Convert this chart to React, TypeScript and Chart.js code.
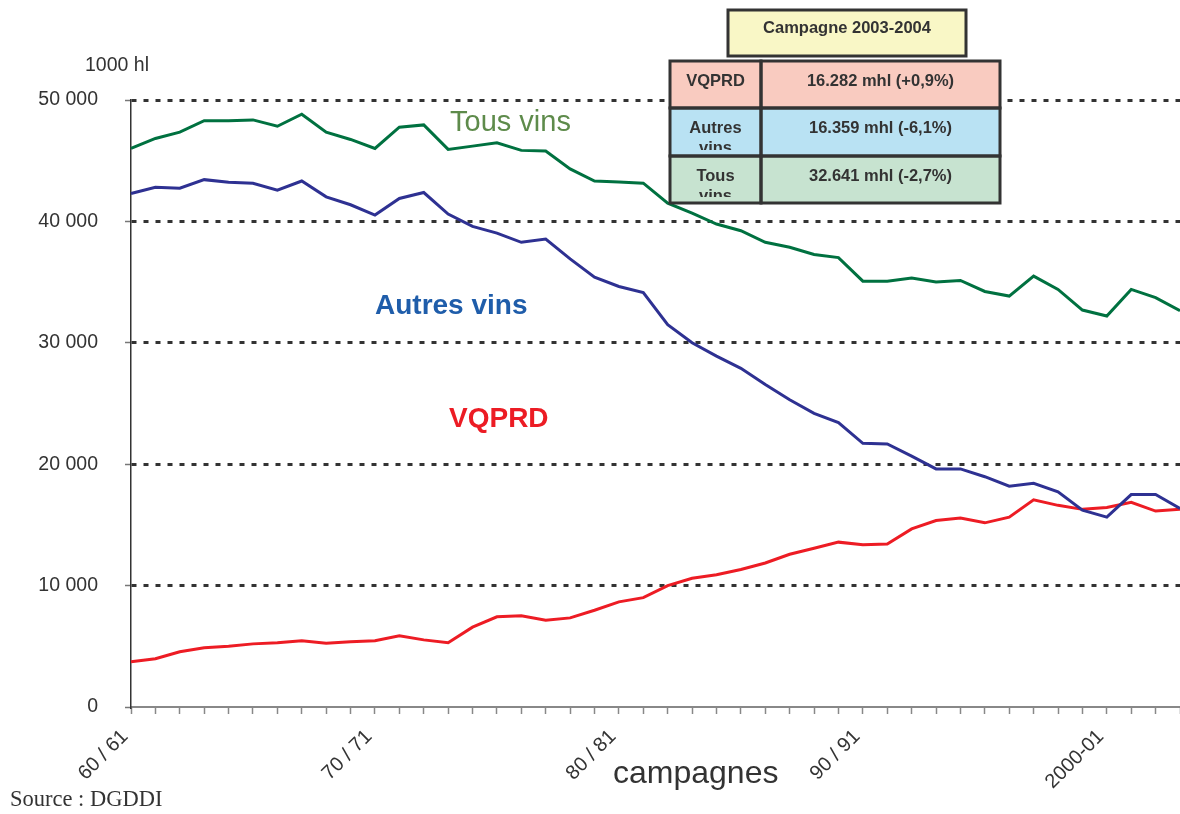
import React, { useEffect, useRef } from 'react';
import { Chart, registerables } from 'chart.js';

Chart.register(...registerables);

// ---- Data (1000 hl) ----
const campagnes = [
  '60 / 61', '61 / 62', '62 / 63', '63 / 64', '64 / 65', '65 / 66', '66 / 67', '67 / 68', '68 / 69', '69 / 70',
  '70 / 71', '71 / 72', '72 / 73', '73 / 74', '74 / 75', '75 / 76', '76 / 77', '77 / 78', '78 / 79', '79 / 80',
  '80 / 81', '81 / 82', '82 / 83', '83 / 84', '84 / 85', '85 / 86', '86 / 87', '87 / 88', '88 / 89', '89 / 90',
  '90 / 91', '91 / 92', '92 / 93', '93 / 94', '94 / 95', '95 / 96', '96 / 97', '97 / 98', '98 / 99', '99 / 00',
  '2000-01', '2001-02', '2002-03', '2003-04',
];

const shownTickLabels = ['60 / 61', '70 / 71', '80 / 81', '90 / 91', '2000-01'];

const tousVins = [
  46010, 46830, 47350, 48300, 48300, 48360, 47840, 48830, 47350, 46750,
  46010, 47760, 47950, 45930, 46200, 46480, 45850, 45790, 44320, 43330,
  43250, 43150, 41500, 40680, 39780, 39230, 38280, 37870, 37270, 37020,
  35080, 35080, 35330, 35000, 35140, 34230, 33850, 35490, 34400, 32700,
  32210, 34400, 33720, 32641,
];

const autresVins = [
  42300, 42810, 42730, 43440, 43220, 43140, 42570, 43330, 42020, 41370,
  40520, 41890, 42380, 40600, 39590, 39040, 38280, 38550, 36910, 35410,
  34640, 34130, 31500, 30000, 28900, 27900, 26560, 25310, 24190, 23420,
  21720, 21670, 20670, 19610, 19610, 18970, 18190, 18420, 17720, 16220,
  15640, 17500, 17500, 16359,
];

const vqprd = [
  3730, 3970, 4550, 4880, 5010, 5200, 5290, 5450, 5260, 5370,
  5450, 5860, 5530, 5290, 6580, 7430, 7510, 7150, 7340, 7970,
  8660, 9010, 10000, 10610, 10890, 11330, 11860, 12580, 13080, 13580,
  13360, 13420, 14670, 15360, 15560, 15170, 15640, 17060, 16610, 16280,
  16440, 16860, 16140, 16282,
];

const yTicks = [0, 10000, 20000, 30000, 40000, 50000];

const tableTitle = 'Campagne 2003-2004';
const tableRowLabels = [['VQPRD'], ['Autres', 'vins'], ['Tous', 'vins']];
const tableRowValues = ['16.282 mhl (+0,9%)', '16.359 mhl (-6,1%)', '32.641 mhl (-2,7%)'];

const SANS = '"Liberation Sans", Arial, Helvetica, sans-serif';
const SERIF = '"Liberation Serif", "Times New Roman", serif';

function fmt(v: number): string {
  if (v === 0) return '0';
  const s = String(Math.round(v));
  return s.replace(/\B(?=(\d{3})+(?!\d))/g, ' ');
}

const annotations = {
  id: 'annotations',
  afterDraw(chart: any) {
    const ctx = chart.ctx as CanvasRenderingContext2D;
    ctx.save();
    ctx.textBaseline = 'alphabetic';

    // unit
    ctx.textAlign = 'left';
    ctx.fillStyle = '#333333';
    ctx.font = `19.5px ${SANS}`;
    ctx.fillText('1000 hl', 85, 71);

    // series labels
    ctx.font = `29px ${SANS}`;
    ctx.fillStyle = '#5E8B4B';
    ctx.fillText('Tous vins', 450, 131);

    ctx.font = `bold 28px ${SANS}`;
    ctx.fillStyle = '#1F5DAA';
    ctx.fillText('Autres vins', 375, 314);

    ctx.fillStyle = '#EC1C24';
    ctx.fillText('VQPRD', 449, 427);

    // axis title
    ctx.font = `32px ${SANS}`;
    ctx.fillStyle = '#333333';
    ctx.fillText('campagnes', 613, 783);

    // source
    ctx.font = `22.5px ${SERIF}`;
    ctx.fillStyle = '#333333';
    ctx.fillText('Source : DGDDI', 10, 806);

    // ---- table ----
    const border = '#333333';
    ctx.fillStyle = '#F9F7C6';
    ctx.fillRect(728, 10, 238, 46);
    ctx.lineWidth = 3;
    ctx.strokeStyle = border;
    ctx.strokeRect(728, 10, 238, 46);
    ctx.fillStyle = '#333333';
    ctx.textAlign = 'center';
    ctx.font = `bold 16.5px ${SANS}`;
    ctx.fillText(tableTitle, 847, 32.5);

    const x0 = 670, xm = 761, x1 = 1000;
    const rowsY = [61, 108, 156, 203];
    const fills = ['#F9CBC0', '#B9E2F3', '#C7E3D0'];
    for (let r = 0; r < 3; r++) {
      const top = rowsY[r], bot = rowsY[r + 1];
      ctx.fillStyle = fills[r];
      ctx.fillRect(x0, top, x1 - x0, bot - top);
    }
    ctx.lineWidth = 3;
    ctx.strokeStyle = border;
    for (let r = 0; r < 3; r++) {
      const top = rowsY[r], bot = rowsY[r + 1];
      ctx.strokeRect(x0, top, xm - x0, bot - top);
      ctx.strokeRect(xm, top, x1 - xm, bot - top);
    }
    ctx.font = `bold 16.5px ${SANS}`;
    ctx.fillStyle = '#333333';
    for (let r = 0; r < 3; r++) {
      const top = rowsY[r], bot = rowsY[r + 1];
      const base = top + 25;
      ctx.save();
      ctx.beginPath();
      ctx.rect(x0, top, x1 - x0, bot - top - 6);
      ctx.clip();
      tableRowLabels[r].forEach((line, i) => {
        ctx.fillText(line, (x0 + xm) / 2, base + i * 20);
      });
      ctx.fillText(tableRowValues[r], (xm + x1) / 2, base);
      ctx.restore();
    }

    ctx.restore();
  },
};

export default function App() {
  const ref = useRef<HTMLCanvasElement | null>(null);

  useEffect(() => {
    if (!ref.current) return;
    const chart = new Chart(ref.current, {
      type: 'line',
      data: {
        labels: campagnes,
        datasets: [
          {
            label: 'Autres vins',
            data: autresVins,
            borderColor: '#2E3192',
            borderWidth: 3,
            pointRadius: 0,
            tension: 0,
            fill: false,
          },
          {
            label: 'Tous vins',
            data: tousVins,
            borderColor: '#007140',
            borderWidth: 3,
            pointRadius: 0,
            tension: 0,
            fill: false,
          },
          {
            label: 'VQPRD',
            data: vqprd,
            borderColor: '#ED1C24',
            borderWidth: 3,
            pointRadius: 0,
            tension: 0,
            fill: false,
          },
        ],
      },
      options: {
        responsive: false,
        animation: false,
        layout: { padding: { top: 100, right: 0, bottom: 0, left: 0 } },
        plugins: {
          legend: { display: false },
          tooltip: { enabled: false },
        },
        scales: {
          x: {
            type: 'category',
            offset: false,
            afterFit: (s: any) => {
              s.height = 107;
              s.paddingLeft = 0;
              s.paddingRight = 0;
            },
            grid: {
              display: true,
              drawOnChartArea: false,
              drawTicks: true,
              tickLength: 7,
              tickColor: '#888888',
              tickWidth: 1.5,
              color: '#888888',
            },
            border: { display: true, color: '#888888', width: 2 },
            ticks: {
              autoSkip: false,
              maxRotation: 45,
              minRotation: 45,
              padding: 11,
              labelOffset: -6,
              color: '#333333',
              font: { family: SANS, size: 20 },
              callback: (_v: any, i: number) =>
                shownTickLabels.includes(campagnes[i]) ? campagnes[i] : '',
            },
          },
          y: {
            min: 0,
            max: 50000,
            afterFit: (s: any) => {
              s.width = 131;
            },
            afterBuildTicks: (s: any) => {
              s.ticks = yTicks.map((v) => ({ value: v }));
            },
            grid: {
              display: true,
              drawOnChartArea: true,
              drawTicks: true,
              tickLength: 6,
              tickColor: '#777777',
              tickWidth: 1.5,
              lineWidth: 3,
              color: (c: any) => (c.tick && c.tick.value === 0 ? 'rgba(0,0,0,0)' : '#333333'),
            },
            border: { display: true, color: '#333333', width: 1.5, dash: [5, 7] },
            ticks: {
              padding: 27,
              color: '#333333',
              font: { family: SANS, size: 19.5 },
              callback: (v: any) => fmt(Number(v)),
            },
          },
        },
      },
      plugins: [annotations],
    });
    return () => chart.destroy();
  }, []);

  return (
    <div style={{ position: 'fixed', left: 0, top: 0, width: 1180, height: 814, background: '#ffffff' }}>
      <canvas ref={ref} width={1180} height={814} style={{ display: 'block' }} />
    </div>
  );
}
